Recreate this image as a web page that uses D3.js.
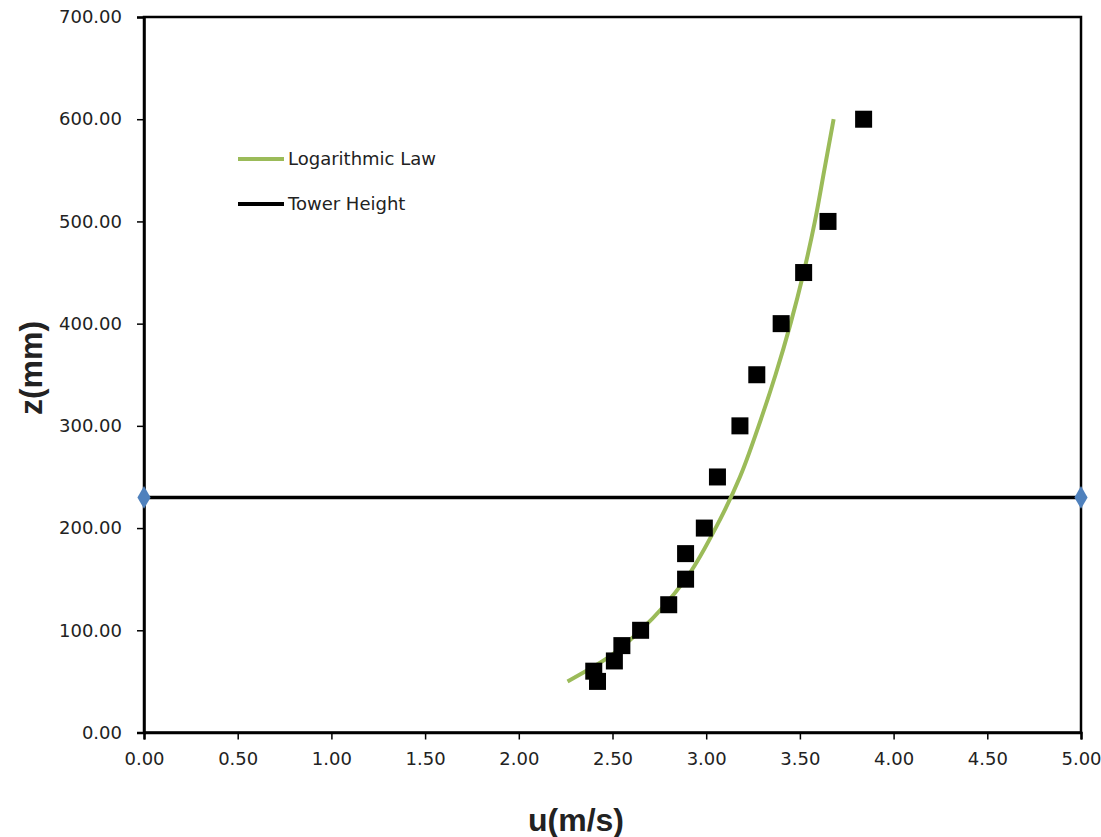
<!DOCTYPE html>
<html><head><meta charset="utf-8">
<script src="https://cdn.jsdelivr.net/npm/d3@7"></script>
<style>body{margin:0;background:#fff}svg{display:block}</style>
</head><body><svg id="c" width="1101" height="837"></svg>
<script>
const measZ = [50, 60, 70, 85, 100, 125, 150, 175, 200, 250, 300, 350, 400, 450, 500, 600];
const measU = [2.42, 2.40, 2.51, 2.55, 2.65, 2.80, 2.89, 2.89, 2.99, 3.06, 3.18, 3.27, 3.40, 3.52, 3.65, 3.84];
const logZ = [50, 75, 100, 150, 200, 250, 300, 350, 400, 450, 500, 550, 600];
const logU = [2.26, 2.49, 2.65, 2.89, 3.05, 3.18, 3.28, 3.37, 3.45, 3.52, 3.58, 3.63, 3.68];
const towerU = [0, 5];
const towerZ = [230, 230];
const xTicks = [0, 0.5, 1, 1.5, 2, 2.5, 3, 3.5, 4, 4.5, 5];
const yTicks = [0, 100, 200, 300, 400, 500, 600, 700];

const svg = d3.select("#c");
const L = 144, R = 1081, T = 17, B = 732.5;
const x = d3.scaleLinear().domain([0, 5]).range([L, R]);
const y = d3.scaleLinear().domain([0, 700]).range([B, T]);
const font = "'DejaVu Sans', Verdana, sans-serif";
const fmt = d3.format(".2f");

svg.append("rect").attr("x", L).attr("y", T).attr("width", R - L).attr("height", B - T)
  .attr("fill", "none").attr("stroke", "#000").attr("stroke-width", 2.5);

const yAx = svg.append("g").attr("transform", `translate(${L},0)`)
  .call(d3.axisLeft(y).tickValues(yTicks).tickFormat(fmt).tickSize(7).tickPadding(15));
const xAx = svg.append("g").attr("transform", `translate(0,${B})`)
  .call(d3.axisBottom(x).tickValues(xTicks).tickFormat(fmt).tickSize(7).tickPadding(13));
[yAx, xAx].forEach(g => {
  g.select(".domain").attr("stroke", "#000").attr("stroke-width", 2.5);
  g.selectAll(".tick line").attr("stroke", "#000").attr("stroke-width", 1.5);
  g.selectAll(".tick text").attr("fill", "#222").style("font-family", font).style("font-size", "18px");
});

const line = d3.line().x(d => x(d[0])).y(d => y(d[1]));
const tower = towerU.map((u, i) => [u, towerZ[i]]);
svg.append("path").datum(tower).attr("d", line).attr("stroke", "#000").attr("stroke-width", 3.5).attr("fill", "none");
svg.selectAll(".dia").data(tower).enter().append("path")
  .attr("transform", d => `translate(${x(d[0])},${y(d[1])})`)
  .attr("d", d3.symbol(d3.symbolDiamond, 150)).attr("fill", "#4F81BD");

const logPts = logU.map((u, i) => [u, logZ[i]]);
svg.append("path").datum(logPts).attr("d", d3.line().x(d => x(d[0])).y(d => y(d[1])).curve(d3.curveMonotoneY))
  .attr("stroke", "#9BBB59").attr("stroke-width", 4).attr("fill", "none");

svg.selectAll(".sq").data(measU.map((u, i) => [u, measZ[i]])).enter().append("rect")
  .attr("x", d => x(d[0]) - 8.5).attr("y", d => y(d[1]) - 8.5).attr("width", 17).attr("height", 17).attr("fill", "#000");

const leg = [["Logarithmic Law", "#9BBB59", 159], ["Tower Height", "#000", 204]];
leg.forEach(([t, c, ly]) => {
  svg.append("line").attr("x1", 238).attr("x2", 284).attr("y1", ly).attr("y2", ly).attr("stroke", c).attr("stroke-width", 4);
  svg.append("text").attr("x", 288).attr("y", ly + 6).text(t).attr("fill", "#222")
    .style("font-family", font).style("font-size", "18px");
});

svg.append("text").attr("x", 576).attr("y", 831).attr("text-anchor", "middle").text("u(m/s)")
  .style("font-family", "'Liberation Sans', Arial, sans-serif").style("font-weight", "bold").style("font-size", "32px").attr("fill", "#222");
svg.append("text").attr("transform", "translate(42,368) rotate(-90)").attr("text-anchor", "middle").text("z(mm)")
  .style("font-family", "'Liberation Sans', Arial, sans-serif").style("font-weight", "bold").style("font-size", "32px").attr("fill", "#222");
</script></body></html>
